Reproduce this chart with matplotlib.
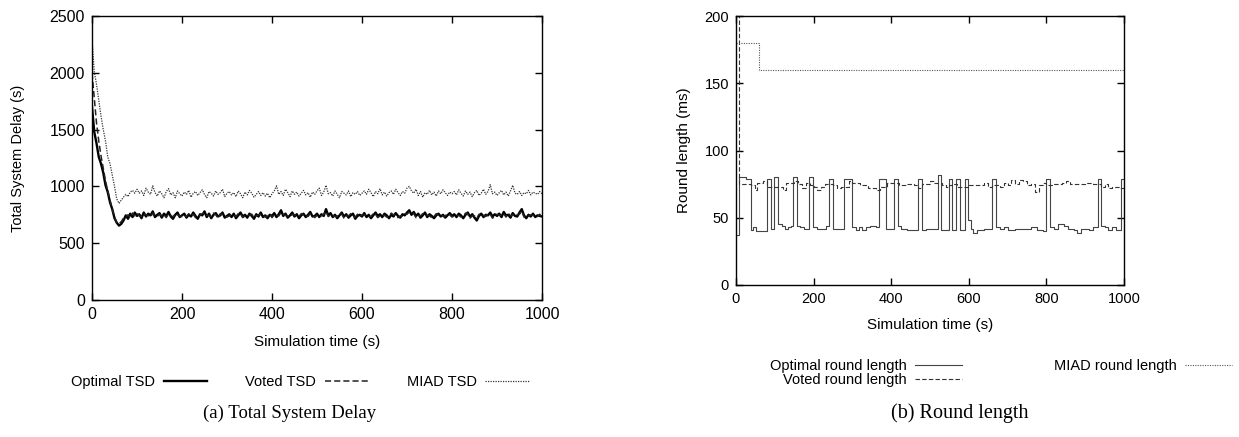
import matplotlib
matplotlib.use('Agg')
import matplotlib.pyplot as plt
import numpy as np

plt.rcParams['font.family'] = ['Liberation Sans', 'DejaVu Sans']

# ---- Total System Delay, one sample every 5 s ----
tsd_time = np.arange(0, 1001, 5)
opt_tsd = [1700, 1480, 1380, 1260, 1200, 1120, 1010, 950, 860, 800, 720, 680, 655,
           670, 700, 745, 715, 760, 730, 770, 740,
           755, 720, 770, 735, 760, 745, 780, 730, 750, 765, 725, 760, 740, 775, 735, 715, 750, 770, 730, 745,
           760, 725, 750, 735, 770, 740, 715, 755, 745, 780, 730, 760, 720, 750, 765, 735, 745, 770, 725, 740,
           755, 730, 760, 720, 745, 770, 735, 750, 725, 760, 740, 715, 755, 735, 770, 730, 745, 720, 750, 740,
           765, 730, 755, 790, 740, 760, 725, 745, 770, 735, 755, 720, 745, 760, 730, 750, 775, 735, 740, 760,
           730, 755, 740, 800, 745, 765, 730, 750, 720, 745, 770, 735, 755, 725, 745, 760, 715, 740, 750, 735,
           765, 730, 750, 720, 745, 770, 740, 755, 730, 760, 745, 720, 750, 735, 765, 740, 725, 755, 745, 770,
           790, 750, 775, 740, 760, 725, 745, 770, 730, 755, 740, 720, 745, 760, 735, 750, 725, 745, 765, 740,
           755, 730, 760, 745, 720, 750, 770, 735, 755, 725, 700, 740, 760, 730, 750, 745, 770, 735, 755, 740,
           760, 730, 775, 745, 750, 725, 765, 740, 735, 770, 800, 745, 720, 750, 735, 760, 730, 745, 740, 735]
voted_tsd = [2000, 1780, 1560, 1400, 1270, 1160, 1050, 960, 880, 800, 730, 680, 670,
             690, 720, 735, 750, 725, 765, 740, 760,
             740, 735, 760, 750, 745, 730, 765, 745, 735, 755, 740, 750, 725, 760, 745, 730, 760, 750, 740, 735,
             745, 735, 760, 745, 755, 725, 730, 745, 760, 765, 745, 745, 735, 765, 750, 720, 760, 755, 740, 730,
             740, 745, 745, 735, 760, 755, 725, 740, 740, 745, 755, 730, 740, 750, 755, 745, 730, 735, 760, 725,
             750, 745, 740, 770, 755, 745, 740, 730, 755, 750, 740, 735, 760, 745, 745, 735, 760, 750, 725, 745,
             745, 740, 755, 780, 735, 750, 745, 735, 735, 760, 755, 720, 740, 740, 760, 745, 730, 755, 735, 750,
             750, 745, 735, 735, 760, 755, 725, 740, 745, 745, 730, 735, 765, 750, 745, 725, 740, 740, 760, 755,
             775, 765, 760, 725, 745, 740, 760, 755, 745, 740, 725, 735, 760, 745, 750, 735, 740, 760, 750, 730,
             740, 745, 745, 730, 735, 765, 755, 720, 740, 740, 715, 755, 745, 745, 735, 760, 755, 720, 740, 755,
             745, 745, 760, 730, 765, 740, 750, 755, 750, 755, 785, 730, 735, 740, 750, 745, 745, 735, 755, 725]
miad_tsd = [2300, 2010, 1900, 1760, 1620, 1500, 1400, 1260, 1200, 1100, 1000, 890, 850,
            880, 905, 930, 910, 950, 965, 940, 975,
            940, 960, 920, 985, 950, 930, 1005, 945, 915, 960, 935, 900, 955, 980, 925, 945, 900, 960, 935, 915,
            950, 930, 965, 905, 940, 955, 920, 945, 970, 930, 900, 955, 940, 915, 960, 930, 945, 975, 910, 940,
            955, 925, 945, 910, 960, 935, 900, 950, 925, 965, 940, 905, 930, 955, 920, 945, 915, 940, 900, 935,
            960, 1005, 930, 955, 920, 975, 945, 910, 960, 930, 950, 915, 940, 965, 925, 945, 905, 950, 930, 960,
            985, 920, 950, 1010, 935, 945, 915, 960, 930, 900, 955, 940, 925, 960, 910, 945, 930, 955, 920, 940,
            960, 930, 975, 945, 910, 955, 935, 980, 925, 950, 915, 945, 960, 930, 975, 945, 920, 955, 940, 985,
            1000, 960, 940, 975, 920, 955, 905, 945, 930, 965, 925, 950, 915, 960, 935, 970, 945, 920, 950, 935,
            955, 925, 970, 940, 915, 960, 930, 950, 910, 945, 965, 920, 940, 975, 930, 955, 1015, 935, 950, 920,
            945, 965, 925, 950, 915, 960, 1010, 940, 930, 955, 920, 945, 935, 965, 925, 950, 940, 930, 955, 935]

# ---- Round length, step changes (start time, value) ----
opt_round_t = [0, 8, 25, 38, 45, 52, 79, 90, 98, 109, 118, 125, 135, 142, 148, 158, 165, 175,
               189, 198, 210, 232, 240, 249, 279, 299, 310, 318, 326, 335, 345, 362, 369, 387,
               406, 418, 425, 440, 468, 480, 490, 520, 529, 549, 556, 566, 577, 589, 598, 606,
               612, 620, 640, 660, 670, 680, 690, 700, 720, 760, 775, 790, 800, 808, 820, 830,
               845, 855, 870, 880, 890, 910, 920, 933, 942, 950, 960, 970, 980, 992, 1000]
opt_round_v = [37, 80, 79, 41, 43, 40, 79, 42, 80, 45, 44, 42, 43, 44, 80, 44, 43, 42,
               80, 43, 42, 44, 79, 42, 79, 43, 41, 43, 41, 43, 44, 43, 79, 42,
               79, 44, 42, 41, 79, 41, 42, 82, 41, 79, 41, 79, 41, 79, 48, 42,
               39, 41, 42, 79, 43, 42, 43, 41, 42, 43, 41, 40, 79, 43, 42, 45,
               44, 42, 41, 39, 42, 41, 43, 79, 44, 43, 41, 43, 41, 79, 79]
voted_round_t = [0, 8, 38, 48, 55, 70, 80, 110, 120, 130, 150, 160, 170, 180, 190, 200, 210,
                 220, 230, 250, 260, 270, 290, 300, 320, 340, 360, 370, 390, 420, 440, 460, 470,
                 480, 500, 510, 530, 540, 550, 560, 570, 600, 640, 650, 660, 680, 690, 700, 710,
                 720, 730, 740, 750, 760, 770, 780, 790, 800, 820, 840, 850, 860, 900, 920, 940,
                 950, 960, 970, 990, 1000]
voted_round_v = [210, 75, 74, 71, 76, 77, 73, 73, 71, 76, 77, 75, 72, 76, 74, 73, 71,
                 73, 75, 74, 72, 73, 77, 76, 74, 72, 71, 73, 76, 74, 75, 74, 72,
                 75, 77, 76, 74, 73, 74, 75, 73, 74, 76, 73, 74, 73, 76, 74, 78,
                 75, 78, 77, 74, 75, 69, 74, 76, 74, 75, 76, 77, 75, 76, 75, 73,
                 75, 72, 73, 72, 72]
miad_round_t = [0, 58, 1000]
miad_round_v = [180, 160, 160]

fig = plt.figure(figsize=(12.39, 4.37), dpi=100)
ax1 = fig.add_axes([92/1239, 1-300/437, 450/1239, 284/437])
ax2 = fig.add_axes([736/1239, 1-285/437, 388/1239, 269/437])

l1, = ax1.plot(tsd_time, opt_tsd, color='black', lw=1.7, label='Optimal TSD')
l2, = ax1.plot(tsd_time, voted_tsd, color='#222222', lw=1.1, ls=(0, (4, 2)), label='Voted TSD')
l3, = ax1.plot(tsd_time, miad_tsd, color='#333333', lw=0.9, ls=(0, (1, 1)), label='MIAD TSD')
ax1.set_xlim(0, 1000)
ax1.set_ylim(0, 2500)
ax1.set_xticks(np.arange(0, 1001, 200))
ax1.set_yticks(np.arange(0, 2501, 500))
ax1.set_xlabel('Simulation time (s)', fontsize=11)
ax1.set_ylabel('Total System Delay (s)', fontsize=10.5)
ax1.xaxis.set_label_coords(0.5, -(342-300)/284)
ax1.xaxis.label.set_va('center')
ax1.yaxis.set_label_coords(-(92-18)/450, 0.5)
ax1.yaxis.label.set_va('center')
ax1.tick_params(labelsize=11.5)

r1, = ax2.step(opt_round_t, opt_round_v, where='post', color='#444444', lw=0.8, label='Optimal round length')
r2, = ax2.step(voted_round_t, voted_round_v, where='post', color='#333333', lw=0.8, ls=(0, (4, 2)),
               label='Voted round length')
r3, = ax2.step(miad_round_t, miad_round_v, where='post', color='#555555', lw=0.8, ls=(0, (1, 1.2)),
               label='MIAD round length')
ax2.set_xlim(0, 1000)
ax2.set_ylim(0, 200)
ax2.set_xticks(np.arange(0, 1001, 200))
ax2.set_yticks(np.arange(0, 201, 50))
ax2.set_xlabel('Simulation time (s)', fontsize=11)
ax2.set_ylabel('Round length (ms)', fontsize=11)
ax2.xaxis.set_label_coords(0.5, -(325-285)/269)
ax2.xaxis.label.set_va('center')
ax2.yaxis.set_label_coords(-(736-684)/388, 0.5)
ax2.yaxis.label.set_va('center')
ax2.tick_params(labelsize=10.5)

for ax in (ax1, ax2):
    ax.tick_params(direction='in', top=True, right=True, length=5, width=1, pad=5)
    for s in ax.spines.values():
        s.set_linewidth(1.0)

fig.legend(handles=[l1, l2, l3], loc='center', bbox_to_anchor=(300/1239, 1-382/437), ncol=3,
           frameon=False, markerfirst=False, fontsize=10.5, handlelength=3.0, columnspacing=2.6,
           handletextpad=0.6)
fig.legend(handles=[r1, r2, r3], loc='center', bbox_to_anchor=(1001/1239, 1-373/437), ncol=2,
           frameon=False, markerfirst=False, fontsize=10.5, handlelength=3.2, columnspacing=6.3,
           handletextpad=0.6, labelspacing=0.05)

fig.text(290/1239, 1-413/437, '(a) Total System Delay', ha='center', va='center',
         family='Liberation Serif', fontsize=13.5)
fig.text(960/1239, 1-413/437, '(b) Round length', ha='center', va='center',
         family='Liberation Serif', fontsize=14.5)

fig.savefig('out.png', dpi=100)
